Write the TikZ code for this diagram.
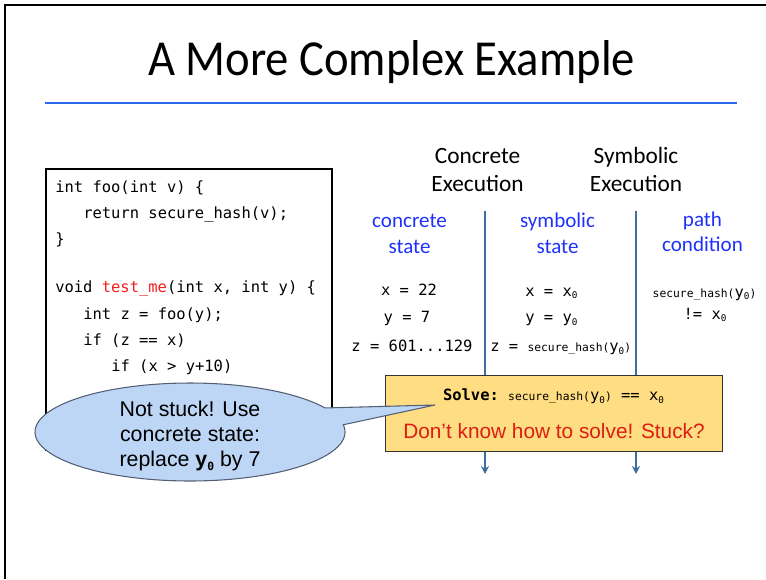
\documentclass[tikz,border=0pt]{standalone}
\usepackage{fontspec}
\setmainfont{Liberation Sans}
\setmonofont{DejaVu Sans Mono}
\newfontfamily\calfont{Carlito}
\usetikzlibrary{arrows.meta}
\definecolor{rulebl}{RGB}{45,105,235}
\definecolor{labbl}{RGB}{30,50,250}
\definecolor{steel}{RGB}{60,110,160}
\definecolor{codered}{RGB}{240,30,30}
\definecolor{stuckred}{RGB}{220,30,20}
\definecolor{solveyel}{RGB}{255,221,130}
\definecolor{cloudfill}{RGB}{189,214,245}
\definecolor{cloudline}{RGB}{85,95,115}
\newcommand\zsub{\raisebox{-0.35ex}{\fontsize{7}{8}\selectfont 0}}
\newcommand\smallhash{{\fontsize{8.5}{10}\selectfont secure\_hash(}y\zsub{\fontsize{8.5}{10}\selectfont )}}
\tikzset{
  code/.style={anchor=base west, inner sep=0pt, font=\ttfamily\fontsize{11.6}{13}\selectfont},
  val/.style={anchor=base, inner sep=0pt, font=\ttfamily\fontsize{11.6}{13}\selectfont},
  valw/.style={anchor=base west, inner sep=0pt, font=\ttfamily\fontsize{11.6}{13}\selectfont},
  head/.style={anchor=base, inner sep=0pt, font=\calfont\fontsize{17.5}{20}\selectfont},
  lab/.style={anchor=base, inner sep=0pt, text=labbl, font=\calfont\fontsize{15.8}{18}\selectfont},
  cloudtxt/.style={anchor=base, inner sep=0pt, font=\fontsize{16}{19}\selectfont},
  flow/.style={draw=steel, line width=1.2pt, -{Stealth[length=6pt,width=6pt]}},
}
\begin{document}
\begin{tikzpicture}[x=0.75pt,y=-0.75pt]
\useasboundingbox (0,0) rectangle (766,579);
% slide border
\draw[line width=1.5pt] (5,579) -- (5,5) -- (766,5);
% title
\node[anchor=base, inner sep=0pt, yscale=1.08, font=\calfont\fontsize{35}{40}\selectfont] (title) at (391.5,75) {A More Complex Example};
\draw[rulebl, line width=2.2pt] (45,103) -- (737,103);
% code box
\draw[line width=0.8pt] (46,169) rectangle (332,450);
\node[code] (c1) at (55,192) {int foo(int v) \{};
\node[code] (c2) at (83,218) {return secure\_hash(v);};
\node[code] (c3) at (55,244) {\}};
\node[code] (c4) at (55,292.5) {void \textcolor{codered}{test\_me}(int x, int y) \{};
\node[code] (c5) at (83,319) {int z = foo(y);};
\node[code] (c6) at (83,345) {if (z == x)};
\node[code] (c7) at (111,371) {if (x > y+10)};
% headers
\node[head] (h1a) at (477.5,163) {Concrete};
\node[head] (h1b) at (477.5,191) {Execution};
\node[head] (h2a) at (636,163) {Symbolic};
\node[head] (h2b) at (636,191) {Execution};
% column labels
\node[lab] (l1a) at (409.5,227) {concrete};
\node[lab] (l1b) at (409.5,253) {state};
\node[lab] (l2a) at (557.5,227) {symbolic};
\node[lab] (l2b) at (557.5,253) {state};
\node[lab] (l3a) at (702.5,226) {path};
\node[lab] (l3b) at (702.5,251) {condition};
% flow lines
\coordinate (f1t) at (485,211);
\coordinate (f1b) at (485,474);
\coordinate (f2t) at (636,211);
\coordinate (f2b) at (636,474);
\draw[flow] (f1t) -- (f1b);
\draw[flow] (f2t) -- (f2b);
% concrete values
\node[val] (cx) at (409,295) {x = 22};
\node[val] (cy) at (407,322.5) {y = 7};
\node[val] (cz) at (412,351.5) {z = 601...129};
% symbolic values
\node[valw] (sx) at (525,296) {x = x\zsub};
\node[valw] (sy) at (525,322.5) {y = y\zsub};
\node[valw] (sz) at (490,351.5) {z = \smallhash};
% path condition
\node[val] (p1) at (704.5,297) {\smallhash};
\node[val] (p2) at (705,319) {!= x\zsub};
% solve box
\node[draw=black!80, line width=0.9pt, fill=solveyel, minimum width=252.5pt, minimum height=57pt, anchor=north west, inner sep=0pt] (solve) at (385,375) {};
\node[val] (s1) at (553.5,400.7) {\textbf{Solve:} \smallhash{} == x\zsub};
\node[anchor=base, inner sep=0pt, text=stuckred, font=\fontsize{15.6}{18}\selectfont] (s2) at (554,438) {Don’t know how to solve! Stuck?};
% callout
\draw[fill=cloudfill, draw=cloudline, line width=0.8pt]
  plot[domain=-8.5:330.6, samples=120] ({190+155*cos(\x)},{432+49*sin(\x)}) -- (435,405) -- cycle;
\node[cloudtxt] (t1) at (190,416) {Not stuck! Use};
\node[cloudtxt] (t2) at (190,441) {concrete state:};
\node[cloudtxt] (t3) at (190,466) {replace \textbf{y{\ttfamily\bfseries\raisebox{-0.35ex}{\fontsize{8.5}{9}\selectfont 0}}} by 7};
\end{tikzpicture}
\end{document}
